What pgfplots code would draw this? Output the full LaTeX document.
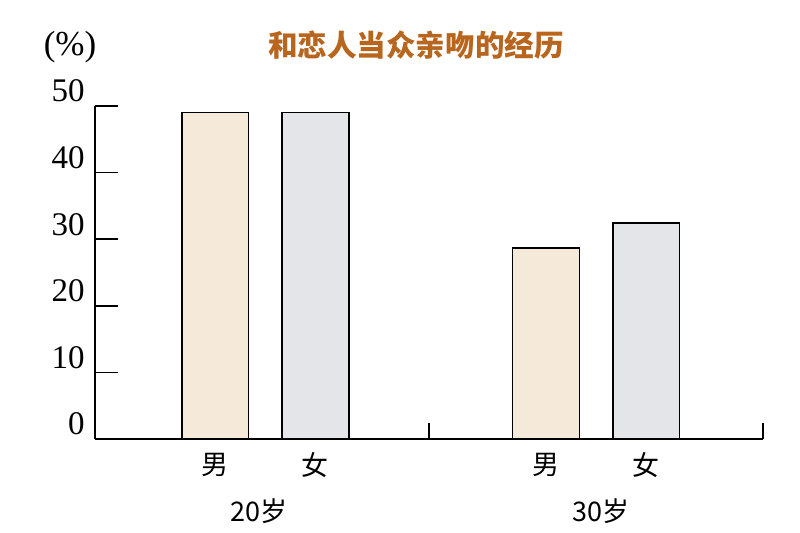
\documentclass[border=0pt]{standalone}
\usepackage{fontspec}
\setmainfont{Liberation Serif}
\newfontfamily\cjk{Noto Sans CJK SC}
\usepackage{pgfplots}
\pgfplotsset{compat=1.18}
\definecolor{titlec}{HTML}{B8651E}
\definecolor{malec}{HTML}{F5E9DA}
\definecolor{femalec}{HTML}{E4E5E8}
\begin{document}
\begin{tikzpicture}
\useasboundingbox (0,0) rectangle (400pt,266.5pt);
\begin{axis}[
  at={(47.5pt,47pt)}, anchor=south west,
  scale only axis, width=334pt, height=166.5pt,
  xmin=0, xmax=10, ymin=0, ymax=50,
  axis x line=bottom, axis y line=left,
  axis line style={-, line width=0.8pt, black},
  xtick=\empty,
  ytick={0,10,20,30,40,50},
  tick align=inside,
  major tick length=11.5pt,
  ytick style={line width=0.8pt, black},
  /pgf/number format/assume math mode=true,
  yticklabel style={font=\fontsize{16.5}{16.5}\selectfont, anchor=base east, inner sep=0pt, xshift=-5pt, yshift=2pt},
  clip=false,
]
\addplot[ybar, bar width=1, bar shift=0pt, fill=malec, draw=black, line width=0.8pt] coordinates {(1.8,49) (6.75,28.7)};
\addplot[ybar, bar width=1, bar shift=0pt, fill=femalec, draw=black, line width=0.8pt] coordinates {(3.3,49) (8.25,32.4)};
\draw[line width=0.8pt] (axis cs:5,0) -- ++(0,8pt);
\draw[line width=0.8pt] (axis cs:10,0) -- ++(0,8pt);
\node[font=\cjk\fontsize{13.5}{13.5}\selectfont] at (axis cs:1.8,-3.9) {男};
\node[font=\cjk\fontsize{13.5}{13.5}\selectfont] at (axis cs:3.3,-3.9) {女};
\node[font=\cjk\fontsize{13.5}{13.5}\selectfont] at (axis cs:6.75,-3.9) {男};
\node[font=\cjk\fontsize{13.5}{13.5}\selectfont] at (axis cs:8.25,-3.9) {女};
\node[font=\cjk\fontsize{13.5}{13.5}\selectfont] at (axis cs:2.46,-10.8) {20岁};
\node[font=\cjk\fontsize{13.5}{13.5}\selectfont] at (axis cs:7.57,-10.8) {30岁};
\end{axis}
\node[font=\fontsize{17.5}{17.5}\selectfont] at (35pt,243pt) {(\%)};
\node[font=\cjk\bfseries\fontsize{14.8}{14.8}\selectfont, text=titlec] at (208pt,244pt) {和恋人当众亲吻的经历};
\end{tikzpicture}
\end{document}
